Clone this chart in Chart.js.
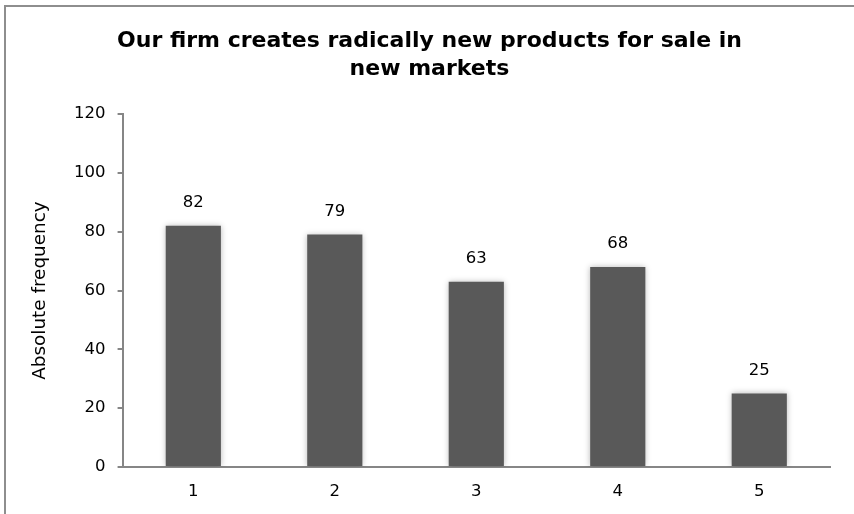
<!DOCTYPE html>
<html>
<head>
<meta charset="utf-8">
<script src="https://cdn.jsdelivr.net/npm/chart.js@4/dist/chart.umd.min.js"></script>
<style>
  html, body { margin: 0; padding: 0; background: #ffffff; overflow: hidden; }
  #frame {
    position: absolute; left: 4px; top: 5px; width: 900px; height: 600px;
    border-left: 2px solid #8e8e8e; border-top: 2px solid #8e8e8e;
  }
  #wrap { position: absolute; left: 0; top: 0; width: 854px; height: 514px; }
</style>
</head>
<body>
<div id="frame"></div>
<div id="wrap"><canvas id="chart"></canvas></div>
<script>
const categories = ['1', '2', '3', '4', '5'];
const frequencies = [82, 79, 63, 68, 25];
const yTicks = [0, 20, 40, 60, 80, 100, 120];

const FONT = "'DejaVu Sans', Verdana, sans-serif";
const TEXT_SIZE = 16.5;

// soft glow around the bars
const barShadow = {
  id: 'barShadow',
  beforeDatasetsDraw(chart) {
    const ctx = chart.ctx;
    ctx.save();
    ctx.shadowColor = 'rgba(0,0,0,0.28)';
    ctx.shadowBlur = 6;
    ctx.shadowOffsetX = 0;
    ctx.shadowOffsetY = 0;
  },
  afterDatasetsDraw(chart) {
    chart.ctx.restore();
  }
};

// value printed above each bar
const valueLabels = {
  id: 'valueLabels',
  afterDatasetsDraw(chart) {
    const ctx = chart.ctx;
    const meta = chart.getDatasetMeta(0);
    ctx.save();
    ctx.font = TEXT_SIZE + 'px ' + FONT;
    ctx.fillStyle = '#000000';
    ctx.textAlign = 'center';
    ctx.textBaseline = 'middle';
    meta.data.forEach((bar, i) => {
      ctx.fillText(String(chart.data.datasets[0].data[i]), bar.x, bar.y - 23);
    });
    ctx.restore();
  }
};

new Chart(document.getElementById('chart'), {
  type: 'bar',
  data: {
    labels: categories,
    datasets: [{
      data: frequencies,
      backgroundColor: '#595959',
      borderWidth: 0,
      categoryPercentage: 1.0,
      barPercentage: 0.39
    }]
  },
  options: {
    responsive: true,
    maintainAspectRatio: false,
    animation: false,
    layout: { padding: { left: 29, right: 24, top: 28, bottom: 12 } },
    plugins: {
      legend: { display: false },
      tooltip: { enabled: false },
      title: {
        display: true,
        text: ['Our firm creates radically new products for sale in', 'new markets'],
        font: { family: FONT, size: 22, weight: 'bold', lineHeight: 1.25 },
        color: '#000000',
        padding: { top: 0, bottom: 31 }
      }
    },
    scales: {
      x: {
        grid: { display: false },
        border: { display: true, color: '#868686', width: 2 },
        ticks: { color: '#000000', font: { family: FONT, size: TEXT_SIZE }, padding: 7 },
        afterFit(scale) { scale.height = 35; }
      },
      y: {
        min: 0,
        max: 120,
        afterBuildTicks(axis) { axis.ticks = yTicks.map(v => ({ value: v })); },
        grid: { drawOnChartArea: false, drawTicks: true, tickLength: 5, color: '#868686', lineWidth: 2 },
        border: { display: true, color: '#868686', width: 2 },
        ticks: { color: '#000000', font: { family: FONT, size: TEXT_SIZE }, padding: 12 },
        title: {
          display: true,
          text: 'Absolute frequency',
          color: '#000000',
          font: { family: FONT, size: 18.4 },
          padding: { top: 0, bottom: 11 }
        }
      }
    }
  },
  plugins: [barShadow, valueLabels]
});
</script>
</body>
</html>
